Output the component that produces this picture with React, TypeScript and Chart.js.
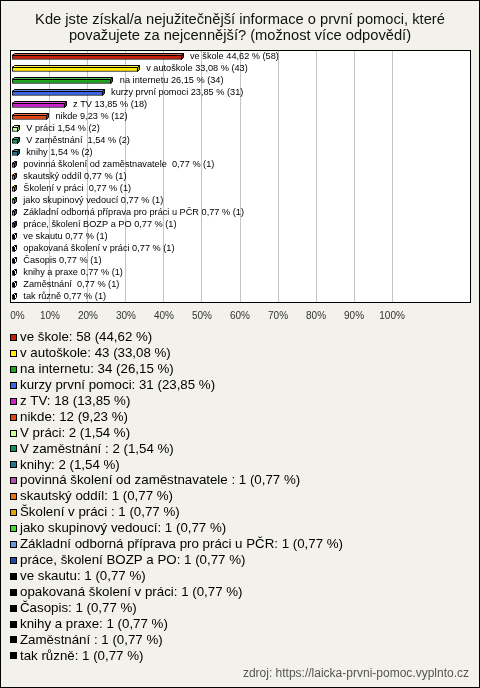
import React, { useEffect, useRef } from "react";
import { Chart, registerables } from "chart.js";

Chart.register(...registerables);

const titleLines = [
  "Kde jste získal/a nejužitečnější informace o první pomoci, které",
  "považujete za nejcennější? (možnost více odpovědí)",
];

const categories = [
  "ve škole",
  "v autoškole",
  "na internetu",
  "kurzy první pomoci",
  "z TV",
  "nikde",
  "V práci",
  "V zaměstnání ",
  "knihy",
  "povinná školení od zaměstnavatele ",
  "skautský oddíl",
  "Školení v práci ",
  "jako skupinový vedoucí",
  "Základní odborná příprava pro práci u PČR",
  "práce, školení BOZP a PO",
  "ve skautu",
  "opakovaná školení v práci",
  "Časopis",
  "knihy a praxe",
  "Zaměstnání ",
  "tak různě",
];

const counts = [58, 43, 34, 31, 18, 12, 2, 2, 2, 1, 1, 1, 1, 1, 1, 1, 1, 1, 1, 1, 1];

const percents = [
  44.62, 33.08, 26.15, 23.85, 13.85, 9.23, 1.54, 1.54, 1.54, 0.77, 0.77, 0.77, 0.77,
  0.77, 0.77, 0.77, 0.77, 0.77, 0.77, 0.77, 0.77,
];

const tickValues = [0, 10, 20, 30, 40, 50, 60, 70, 80, 90, 100];

const barColors = [
  "#c81e0a",
  "#ffee00",
  "#1fa51f",
  "#3a66e8",
  "#cc22cc",
  "#e8440f",
  "#ccff99",
  "#10905a",
  "#1e7a8a",
  "#b050b0",
  "#e87510",
  "#e0a800",
  "#44dd33",
  "#6a96e0",
  "#2448a8",
  "#000000",
  "#000000",
  "#000000",
  "#000000",
  "#000000",
  "#000000",
];

const sourceText = "zdroj: https://laicka-prvni-pomoc.vyplnto.cz";

const fmt = (v: number) => v.toFixed(2).replace(".", ",");

function mix(hex: string, target: number, amt: number) {
  const n = parseInt(hex.slice(1), 16);
  const r = (n >> 16) & 255,
    g = (n >> 8) & 255,
    b = n & 255;
  const f = (c: number) => Math.round(c + (target - c) * amt);
  return `rgb(${f(r)},${f(g)},${f(b)})`;
}

const FONT = "'Liberation Sans', Arial, sans-serif";

const decorPlugin = {
  id: "decor",
  beforeDraw(chart: any) {
    const ctx = chart.ctx;
    const { left, right, top, bottom } = chart.chartArea;
    ctx.save();
    ctx.fillStyle = "#f3f2ea";
    ctx.fillRect(0, 0, chart.width, chart.height);
    ctx.fillStyle = "#ffffff";
    ctx.fillRect(left, top - 1, right - left, bottom - top);
    ctx.restore();
  },
  afterDatasetsDraw(chart: any) {
    const ctx = chart.ctx;
    const meta = chart.getDatasetMeta(0);
    ctx.save();
    ctx.lineWidth = 1;
    ctx.strokeStyle = "#000";
    meta.data.forEach((bar: any, i: number) => {
      const { x, y, base, height } = bar.getProps(["x", "y", "base", "height"], true);
      const t = Math.round(y - height / 2) + 0.5;
      const b = Math.round(y + height / 2) - 0.5;
      const x0 = Math.round(base) + 0.5;
      const x1 = Math.round(x) - 0.5;
      const d = 2;
      const col = barColors[i];
      ctx.beginPath();
      ctx.moveTo(x0, t);
      ctx.lineTo(x0 + d, t - d);
      ctx.lineTo(x1 + d, t - d);
      ctx.lineTo(x1, t);
      ctx.closePath();
      ctx.fillStyle = col === "#000000" ? "#ffffff" : mix(col, 255, 0.25);
      ctx.fill();
      ctx.stroke();
      ctx.beginPath();
      ctx.moveTo(x1, t);
      ctx.lineTo(x1 + d, t - d);
      ctx.lineTo(x1 + d, b - d);
      ctx.lineTo(x1, b);
      ctx.closePath();
      ctx.fillStyle = col === "#000000" ? "#ffffff" : mix(col, 0, 0.3);
      ctx.fill();
      ctx.stroke();
      ctx.fillStyle = "#000";
      ctx.font = `9.2px ${FONT}`;
      ctx.textAlign = "left";
      ctx.textBaseline = "middle";
      ctx.fillText(
        `${categories[i]} ${fmt(percents[i])} % (${counts[i]})`,
        x + 8.5,
        y - 1
      );
    });
    ctx.restore();
  },
  afterDraw(chart: any) {
    const ctx = chart.ctx;
    const { left, right, top, bottom } = chart.chartArea;
    ctx.save();
    ctx.lineWidth = 1;
    ctx.strokeStyle = "#000";
    ctx.strokeRect(left + 0.5, top - 0.5, right - left, bottom - top);

    ctx.fillStyle = "#111";
    ctx.font = `14.7px ${FONT}`;
    ctx.textAlign = "center";
    ctx.textBaseline = "alphabetic";
    ctx.fillText(titleLines[0], 240, 24);
    ctx.fillText(titleLines[1], 240, 40);

    ctx.font = `13.3px ${FONT}`;
    ctx.textAlign = "left";
    ctx.textBaseline = "middle";
    categories.forEach((name, i) => {
      const cy = 337.5 + i * 15.92;
      const sy = Math.round(cy - 3.5);
      ctx.fillStyle = barColors[i];
      ctx.fillRect(10, sy, 7, 7);
      ctx.strokeStyle = "#000";
      ctx.strokeRect(10.5, sy + 0.5, 6, 6);
      ctx.fillStyle = "#000";
      ctx.fillText(`${name}: ${counts[i]} (${fmt(percents[i])} %)`, 20, cy);
    });

    ctx.font = `12px ${FONT}`;
    ctx.fillStyle = "#555";
    ctx.textAlign = "right";
    ctx.fillText(sourceText, 469, 674);

    ctx.strokeStyle = "#000";
    ctx.strokeRect(0.5, 0.5, chart.width - 1, chart.height - 1);
    ctx.restore();
  },
};

export default function App() {
  const ref = useRef<HTMLCanvasElement | null>(null);

  useEffect(() => {
    document.body.style.margin = "0";
    const canvas = ref.current;
    if (!canvas) return;
    const chart = new Chart(canvas, {
      type: "bar",
      data: {
        labels: categories,
        datasets: [
          {
            data: percents,
            backgroundColor: barColors,
            borderColor: "#000",
            borderWidth: 1,
            borderSkipped: false,
            barThickness: 5,
          },
        ],
      },
      options: {
        indexAxis: "y",
        responsive: false,
        animation: false,
        devicePixelRatio: 1,
        layout: { padding: { left: 10, right: 10, top: 51, bottom: 365 } },
        plugins: {
          legend: { display: false },
          title: { display: false },
          tooltip: { enabled: false },
        },
        scales: {
          x: {
            type: "linear",
            min: -0.5,
            max: 120.5,
            afterBuildTicks: (scale: any) => {
              scale.ticks = tickValues.map((v) => ({ value: v }));
            },
            afterFit: (scale: any) => {
              scale.height = 20;
              scale.paddingLeft = 0;
              scale.paddingRight = 0;
            },
            border: { display: false },
            grid: {
              drawTicks: false,
              color: (c: any) => (c.tick && c.tick.value === 0 ? "rgba(0,0,0,0)" : "#c4c4c4"),
              lineWidth: 1,
            },
            ticks: {
              padding: 7,
              color: "#333",
              font: { family: "'Liberation Sans', Arial, sans-serif", size: 10 },
              maxRotation: 0,
              autoSkip: false,
              callback: (v: any) => (Number(v) === 0 ? "    0%" : `${v}%`),
            },
          },
          y: {
            type: "category",
            display: false,
          },
        },
      },
      plugins: [decorPlugin],
    });
    return () => chart.destroy();
  }, []);

  return <canvas ref={ref} width={480} height={688} style={{ display: "block" }} />;
}
